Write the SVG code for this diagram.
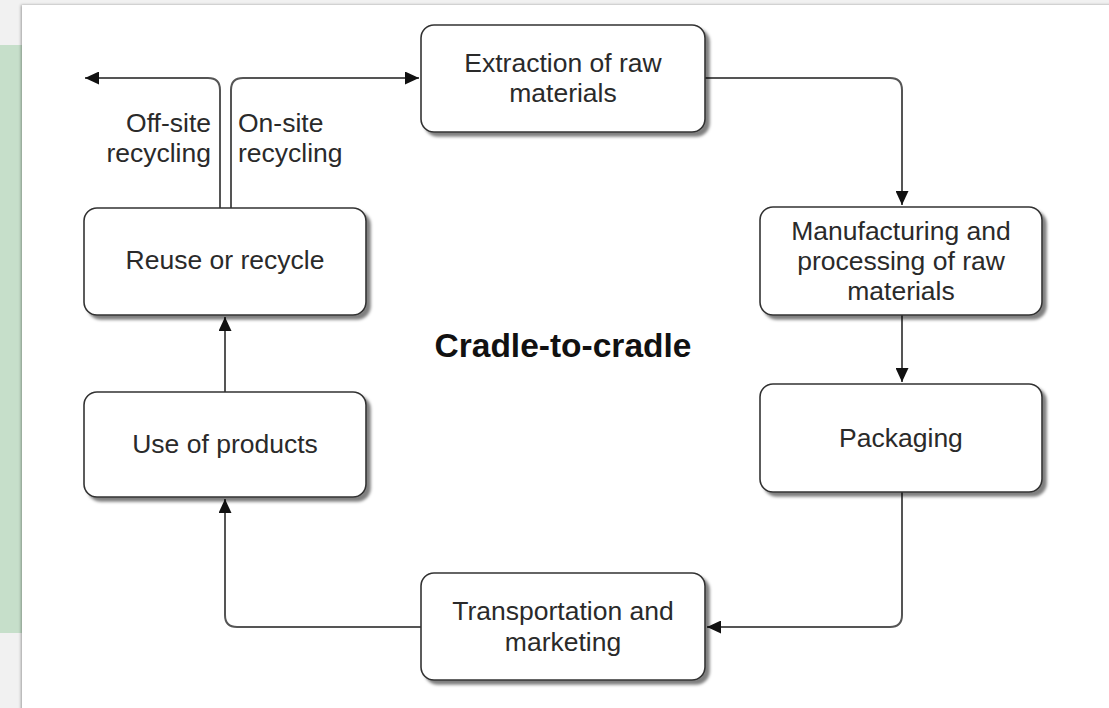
<svg xmlns="http://www.w3.org/2000/svg" width="1109" height="708" viewBox="0 0 1109 708">
<style>
.node rect{fill:#fff;stroke:#333;stroke-width:1.6;filter:url(#sh)}
.node text,.lbl{font-family:"Liberation Sans",Arial,sans-serif;font-size:26.5px;fill:#2a2a2a;text-anchor:middle}
.title{font-family:"Liberation Sans",Arial,sans-serif;font-size:33.5px;font-weight:bold;fill:#111;text-anchor:middle}
#connectors path{fill:none;stroke:#555;stroke-width:2}
</style>
<defs>
<filter id="sh" x="-10%" y="-10%" width="130%" height="140%">
<feDropShadow dx="4" dy="4" stdDeviation="1.6" flood-color="#000" flood-opacity="0.5"/>
</filter>
<filter id="psh" x="-5%" y="-5%" width="110%" height="110%">
<feDropShadow dx="-1" dy="0" stdDeviation="1.5" flood-color="#000" flood-opacity="0.35"/>
</filter>
<marker id="ah" markerUnits="userSpaceOnUse" markerWidth="15" markerHeight="13" refX="14" refY="6.5" orient="auto">
<path d="M0,0 L14,6.5 L0,13 Z" fill="#111"/>
</marker>
</defs>
<rect x="0" y="0" width="1109" height="708" fill="#f1f1f1"/>
<rect x="0" y="45" width="24" height="588" fill="#c6dfca"/>
<rect x="22" y="5" width="1100" height="720" fill="#fff" filter="url(#psh)"/>

<g id="connectors">
<path d="M705,78 H890 Q902,78 902,90 V205" marker-end="url(#ah)"/>
<path d="M902,315 V382" marker-end="url(#ah)"/>
<path d="M902,492 V615 Q902,627 890,627 H707" marker-end="url(#ah)"/>
<path d="M421,627 H237 Q225,627 225,615 V499" marker-end="url(#ah)"/>
<path d="M225,392 V317" marker-end="url(#ah)"/>
<path d="M220,208 V90 Q220,78 208,78 H85" marker-end="url(#ah)"/>
<path d="M231,208 V90 Q231,78 243,78 H419" marker-end="url(#ah)"/>
</g>

<g id="extraction" class="node">
<rect x="421" y="25" width="284" height="107" rx="13"/>
<text x="563" y="72">Extraction of raw</text>
<text x="563" y="102">materials</text>
</g>
<g id="manufacturing" class="node">
<rect x="760" y="207" width="282" height="108" rx="13"/>
<text x="901" y="240">Manufacturing and</text>
<text x="901" y="270">processing of raw</text>
<text x="901" y="300">materials</text>
</g>
<g id="packaging" class="node">
<rect x="760" y="384" width="282" height="108" rx="13"/>
<text x="901" y="447">Packaging</text>
</g>
<g id="transportation" class="node">
<rect x="421" y="573" width="284" height="107" rx="13"/>
<text x="563" y="620">Transportation and</text>
<text x="563" y="651">marketing</text>
</g>
<g id="use" class="node">
<rect x="84" y="392" width="282" height="105" rx="13"/>
<text x="225" y="453">Use of products</text>
</g>
<g id="reuse" class="node">
<rect x="84" y="208" width="282" height="107" rx="13"/>
<text x="225" y="269">Reuse or recycle</text>
</g>

<g id="labels">
<text class="lbl" x="211" y="132" style="text-anchor:end">Off-site</text>
<text class="lbl" x="211" y="162" style="text-anchor:end">recycling</text>
<text class="lbl" x="238" y="132" style="text-anchor:start">On-site</text>
<text class="lbl" x="238" y="162" style="text-anchor:start">recycling</text>
<text class="title" x="563" y="357">Cradle-to-cradle</text>
</g>
</svg>
